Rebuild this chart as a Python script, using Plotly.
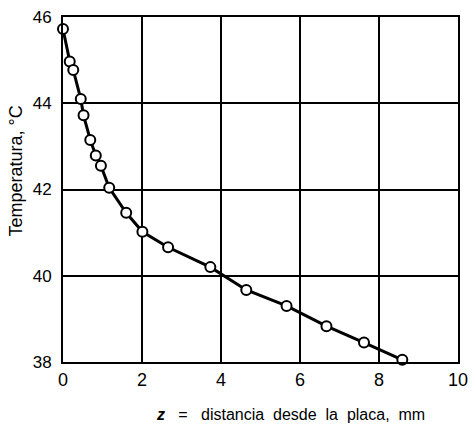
import plotly.graph_objects as go

z_mm = [0.0, 0.17, 0.26, 0.45, 0.52, 0.69, 0.83, 0.96, 1.17, 1.6, 2.01, 2.66, 3.73, 4.64, 5.66, 6.67, 7.62, 8.59]
temp_c = [45.72, 44.97, 44.77, 44.1, 43.72, 43.15, 42.79, 42.55, 42.04, 41.46, 41.02, 40.66, 40.2, 39.67, 39.3, 38.83, 38.45, 38.05]
x_ticks = [0, 2, 4, 6, 8, 10]
y_ticks = [38, 40, 42, 44, 46]

fig = go.Figure()
fig.add_trace(go.Scatter(
    x=z_mm, y=temp_c, mode="lines+markers",
    line=dict(color="black", width=3),
    marker=dict(symbol="circle", size=10, color="white", line=dict(color="black", width=2)),
    cliponaxis=False, showlegend=False,
))

fig.update_xaxes(
    range=[0, 10], tickvals=x_ticks, ticks="", showgrid=True, gridcolor="black", gridwidth=1.5,
    showline=True, linecolor="black", linewidth=2, mirror=True, zeroline=False,
    tickfont=dict(family="Liberation Sans Narrow, Arial Narrow, sans-serif", size=18, color="black"),
    ticklabeloverflow="allow",
)
fig.update_yaxes(
    range=[38, 46], tickvals=y_ticks, ticks="", showgrid=True, gridcolor="black", gridwidth=1.5,
    showline=True, linecolor="black", linewidth=2, mirror=True, zeroline=False,
    tickfont=dict(family="Liberation Sans, Arial, sans-serif", size=17, color="black"),
    ticklabelstandoff=6, ticklabeloverflow="allow",
)
fig.add_annotation(
    xref="paper", yref="paper", x=-0.118, y=0.553, showarrow=False, textangle=-90,
    xanchor="center", yanchor="middle",
    text="Temperatura, °C",
    font=dict(family="Liberation Sans, Arial, sans-serif", size=18, color="black"),
)
s2 = "\u00a0\u00a0"
s3 = "\u00a0\u00a0\u00a0"
fig.add_annotation(
    xref="paper", yref="paper", x=0.575, y=-0.152, xanchor="center", yanchor="middle", showarrow=False,
    text="<b><i>z</i></b>" + s3 + "=" + s3 + "distancia" + s2 + "desde" + s2 + "la" + s2 + "placa," + s2 + "mm",
    font=dict(family="Liberation Sans Narrow, Arial Narrow, sans-serif", size=16, color="black"),
)
fig.update_layout(
    width=476, height=427, margin=dict(l=63, r=8, t=11, b=65),
    paper_bgcolor="white", plot_bgcolor="white",
)
fig.write_html("out.html")
